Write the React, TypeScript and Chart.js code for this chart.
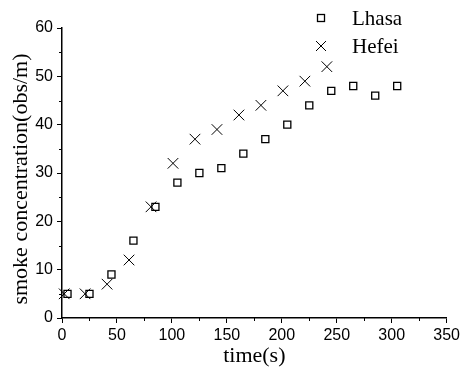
import React, { useEffect, useRef } from "react";
import { Chart, registerables } from "chart.js";

Chart.register(...registerables);

const lhasaTime = [5, 25, 45, 65, 85, 105, 125, 145, 165, 185, 205, 225, 245, 265, 285, 305];
const lhasaConc = [5, 5, 9, 16, 23, 28, 30, 31, 34, 37, 40, 44, 47, 48, 46, 48];
const hefeiTime = [2, 21, 41, 61, 81, 101, 121, 141, 161, 181, 201, 221, 241];
const hefeiConc = [5, 5, 7, 12, 23, 32, 37, 39, 42, 44, 47, 49, 52];
const seriesNames = ["Lhasa", "Hefei"];
const xMinorTicks = [25, 75, 125, 175, 225, 275, 325];
const yMinorTicks = [5, 15, 25, 35, 45, 55];
const yTitle = "smoke concentration(obs/m)";
const xTitle = "time(s)";

const SERIF = "'Liberation Serif', 'Times New Roman', serif";
const SANS = "'Liberation Sans', Arial, sans-serif";

const extrasPlugin = {
  id: "extras",
  afterDraw(chart: any) {
    const ctx = chart.ctx;
    const xs = chart.scales.x;
    const ys = chart.scales.y;
    const area = chart.chartArea;
    ctx.save();
    ctx.strokeStyle = "#000";
    ctx.lineWidth = 1;
    ctx.beginPath();
    for (const v of yMinorTicks) {
      const p = Math.round(ys.getPixelForValue(v)) + 0.5;
      ctx.moveTo(area.left - 3, p);
      ctx.lineTo(area.left, p);
    }
    for (const v of xMinorTicks) {
      const p = Math.round(xs.getPixelForValue(v)) + 0.5;
      ctx.moveTo(p, area.bottom);
      ctx.lineTo(p, area.bottom + 3);
    }
    ctx.stroke();

    // y axis title
    ctx.save();
    ctx.font = "22px " + SERIF;
    ctx.fillStyle = "#000";
    ctx.textAlign = "center";
    ctx.textBaseline = "middle";
    ctx.translate(21, (area.top + area.bottom) / 2 + 6);
    ctx.rotate(-Math.PI / 2);
    ctx.fillText(yTitle, 0, 0);
    ctx.restore();

    // legend
    const mx = 321;
    const tx = 352;
    const rows = [18, 46];
    ctx.font = "21px " + SERIF;
    ctx.fillStyle = "#000";
    ctx.textBaseline = "middle";
    ctx.textAlign = "left";
    ctx.lineWidth = 1.3;
    ctx.strokeRect(mx - 3.5, rows[0] - 3.5, 7, 7);
    ctx.fillText(seriesNames[0], tx, rows[0] + 1);
    ctx.lineWidth = 1;
    ctx.beginPath();
    ctx.moveTo(mx - 5, rows[1] - 5);
    ctx.lineTo(mx + 5, rows[1] + 5);
    ctx.moveTo(mx + 5, rows[1] - 5);
    ctx.lineTo(mx - 5, rows[1] + 5);
    ctx.stroke();
    ctx.fillText(seriesNames[1], tx, rows[1] + 1);
    ctx.restore();
  },
};

export default function App() {
  const ref = useRef<HTMLCanvasElement | null>(null);
  useEffect(() => {
    if (!ref.current) return;
    const chart = new Chart(ref.current, {
      type: "scatter",
      data: {
        datasets: [
          {
            label: seriesNames[0],
            data: lhasaTime.map((t, i) => ({ x: t, y: lhasaConc[i] })),
            pointStyle: "rect",
            pointRadius: 5,
            pointBorderWidth: 1.3,
            borderColor: "#000",
            backgroundColor: "rgba(0,0,0,0)",
            clip: false as any,
          },
          {
            label: seriesNames[1],
            data: hefeiTime.map((t, i) => ({ x: t, y: hefeiConc[i] })),
            pointStyle: "crossRot",
            pointRadius: 7.5,
            pointBorderWidth: 1,
            borderColor: "#000",
            backgroundColor: "rgba(0,0,0,0)",
            clip: false as any,
          },
        ],
      },
      options: {
        animation: false,
        responsive: false,
        devicePixelRatio: 1,
        layout: { padding: { top: 28, right: 14, left: 0, bottom: 0 } },
        plugins: { legend: { display: false }, tooltip: { enabled: false } },
        scales: {
          x: {
            type: "linear",
            min: 0,
            max: 350,
            ticks: {
              stepSize: 50,
              color: "#000",
              font: { family: SANS, size: 16 },
              padding: 3,
              maxRotation: 0,
            },
            grid: { display: true, drawOnChartArea: false, drawTicks: true, tickLength: 5, color: "#000", tickColor: "#000" },
            border: { display: true, color: "#000", width: 1.5 },
            title: {
              display: true,
              text: xTitle,
              color: "#000",
              font: { family: SERIF, size: 22, lineHeight: 1 },
              padding: { top: 0, bottom: 1 },
            },
            afterFit(scale: any) {
              scale.height = 50;
            },
          },
          y: {
            type: "linear",
            min: 0,
            max: 60,
            ticks: {
              stepSize: 10,
              color: "#000",
              font: { family: SANS, size: 16 },
              padding: 4,
            },
            grid: { display: true, drawOnChartArea: false, drawTicks: true, tickLength: 5, color: "#000", tickColor: "#000" },
            border: { display: true, color: "#000", width: 1.5 },
            afterFit(scale: any) {
              scale.width = 62;
            },
          },
        },
      },
      plugins: [extrasPlugin],
    });
    return () => chart.destroy();
  }, []);
  return (
    <div style={{ position: "fixed", left: 0, top: 0, width: 463, height: 368, background: "#fff" }}>
      <canvas ref={ref} width={463} height={368} style={{ width: 463, height: 368, display: "block" }} />
    </div>
  );
}
